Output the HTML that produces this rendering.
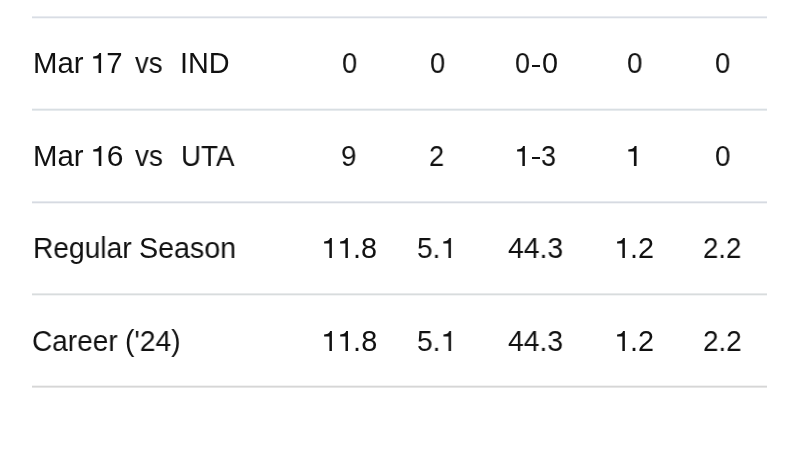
<!DOCTYPE html>
<html><head><meta charset="utf-8">
<style>
html,body{margin:0;padding:0;width:800px;height:450px;overflow:hidden;background:#fff;}
body{position:relative;font-family:"Liberation Sans",sans-serif;color:#111;}
.ln{position:absolute;left:32px;width:735px;height:3px;}
.t{position:absolute;font-size:28.8px;line-height:1;white-space:pre;transform-origin:0 0;will-change:transform;}
.one{display:inline-block;position:relative;width:0.556em;height:0.709em;}
.one svg{position:absolute;left:0;top:0;display:block;}
</style></head><body>
<div class="ln" style="top:16px;background:linear-gradient(#e8ebf0 0,#e8ebf0 1px,#d9dde4 1px,#d9dde4 2px,#f4f6f8 2px)"></div>
<div class="ln" style="top:108px;background:linear-gradient(#f2f4f6 0,#f2f4f6 1px,#d8dee2 1px,#d8dee2 2px,#e6eaed 2px)"></div>
<div class="ln" style="top:201px;background:linear-gradient(#e6e9ee 0,#e6e9ee 1px,#d6dae1 1px,#d6dae1 2px,#f3f4f6 2px)"></div>
<div class="ln" style="top:293px;background:linear-gradient(#e8eaeb 0,#e8eaeb 1px,#d8dcdd 1px,#d8dcdd 2px,#f3f4f5 2px)"></div>
<div class="ln" style="top:385px;background:linear-gradient(#f2f2f2 0,#f2f2f2 1px,#d6d6d6 1px,#d6d6d6 2px,#e6e6e6 2px)"></div>
<div class="t" style="left:32.72px;top:49.40px;transform:scaleX(1.0191)">Mar</div>
<div class="t" style="left:89.70px;top:49.40px;transform:scaleX(1.0193)"><span class="one"><svg viewBox="0 0 556 709" width="100%" height="100%" preserveAspectRatio="none"><path d="M378 709L378 0L312 0C298 70 262 106 108 118L108 190L291 190L291 709Z" fill="#111"/></svg></span>7</div>
<div class="t" style="left:134.60px;top:49.40px;transform:scaleX(0.9536)">vs</div>
<div class="t" style="left:180.01px;top:49.40px;transform:scaleX(0.9956)">IND</div>
<div class="t" style="left:341.71px;top:49.40px;transform:scaleX(0.9500)">0</div>
<div class="t" style="left:429.71px;top:49.40px;transform:scaleX(0.9500)">0</div>
<div class="t" style="left:514.56px;top:49.40px;transform:scaleX(0.9357)">0</div>
<div class="t" style="left:542.21px;top:49.40px;transform:scaleX(0.9857)">0</div>
<div class="t" style="left:626.54px;top:49.40px;transform:scaleX(0.9643)">0</div>
<div class="t" style="left:714.71px;top:49.40px;transform:scaleX(0.9529)">0</div>
<div class="t" style="left:32.72px;top:141.90px;transform:scaleX(1.0191)">Mar</div>
<div class="t" style="left:89.64px;top:141.90px;transform:scaleX(1.0407)"><span class="one"><svg viewBox="0 0 556 709" width="100%" height="100%" preserveAspectRatio="none"><path d="M378 709L378 0L312 0C298 70 262 106 108 118L108 190L291 190L291 709Z" fill="#111"/></svg></span>6</div>
<div class="t" style="left:134.60px;top:141.90px;transform:scaleX(0.9661)">vs</div>
<div class="t" style="left:180.67px;top:141.90px;transform:scaleX(0.9651)">UTA</div>
<div class="t" style="left:341.49px;top:141.90px;transform:scaleX(0.9650)">9</div>
<div class="t" style="left:429.25px;top:141.90px;transform:scaleX(0.9471)">2</div>
<div class="t" style="left:513.87px;top:141.90px;transform:scaleX(0.9750)"><span class="one"><svg viewBox="0 0 556 709" width="100%" height="100%" preserveAspectRatio="none"><path d="M378 709L378 0L312 0C298 70 262 106 108 118L108 190L291 190L291 709Z" fill="#111"/></svg></span></div>
<div class="t" style="left:541.46px;top:141.90px;transform:scaleX(0.9357)">3</div>
<div class="t" style="left:625.41px;top:141.90px;transform:scaleX(1.0625)"><span class="one"><svg viewBox="0 0 556 709" width="100%" height="100%" preserveAspectRatio="none"><path d="M378 709L378 0L312 0C298 70 262 106 108 118L108 190L291 190L291 709Z" fill="#111"/></svg></span></div>
<div class="t" style="left:714.69px;top:141.90px;transform:scaleX(0.9671)">0</div>
<div class="t" style="left:32.84px;top:234.35px;transform:scaleX(0.9786)">Regular</div>
<div class="t" style="left:138.91px;top:234.35px;transform:scaleX(0.9931)">Season</div>
<div class="t" style="left:321.02px;top:234.35px;transform:scaleX(0.9923)"><span class="one"><svg viewBox="0 0 556 709" width="100%" height="100%" preserveAspectRatio="none"><path d="M378 709L378 0L312 0C298 70 262 106 108 118L108 190L291 190L291 709Z" fill="#111"/></svg></span><span class="one"><svg viewBox="0 0 556 709" width="100%" height="100%" preserveAspectRatio="none"><path d="M378 709L378 0L312 0C298 70 262 106 108 118L108 190L291 190L291 709Z" fill="#111"/></svg></span>.8</div>
<div class="t" style="left:417.23px;top:234.35px;transform:scaleX(0.9721)">5.<span class="one"><svg viewBox="0 0 556 709" width="100%" height="100%" preserveAspectRatio="none"><path d="M378 709L378 0L312 0C298 70 262 106 108 118L108 190L291 190L291 709Z" fill="#111"/></svg></span></div>
<div class="t" style="left:508.01px;top:234.35px;transform:scaleX(0.9852)">44.3</div>
<div class="t" style="left:614.11px;top:234.35px;transform:scaleX(0.9972)"><span class="one"><svg viewBox="0 0 556 709" width="100%" height="100%" preserveAspectRatio="none"><path d="M378 709L378 0L312 0C298 70 262 106 108 118L108 190L291 190L291 709Z" fill="#111"/></svg></span>.2</div>
<div class="t" style="left:703.14px;top:234.35px;transform:scaleX(0.9579)">2.2</div>
<div class="t" style="left:32.26px;top:326.80px;transform:scaleX(0.9721)">Career</div>
<div class="t" style="left:125.13px;top:326.80px;transform:scaleX(0.9830)">('24)</div>
<div class="t" style="left:320.59px;top:326.80px;transform:scaleX(1.0038)"><span class="one"><svg viewBox="0 0 556 709" width="100%" height="100%" preserveAspectRatio="none"><path d="M378 709L378 0L312 0C298 70 262 106 108 118L108 190L291 190L291 709Z" fill="#111"/></svg></span><span class="one"><svg viewBox="0 0 556 709" width="100%" height="100%" preserveAspectRatio="none"><path d="M378 709L378 0L312 0C298 70 262 106 108 118L108 190L291 190L291 709Z" fill="#111"/></svg></span>.8</div>
<div class="t" style="left:417.22px;top:326.80px;transform:scaleX(0.9765)">5.<span class="one"><svg viewBox="0 0 556 709" width="100%" height="100%" preserveAspectRatio="none"><path d="M378 709L378 0L312 0C298 70 262 106 108 118L108 190L291 190L291 709Z" fill="#111"/></svg></span></div>
<div class="t" style="left:508.02px;top:326.80px;transform:scaleX(0.9833)">44.3</div>
<div class="t" style="left:614.11px;top:326.80px;transform:scaleX(0.9972)"><span class="one"><svg viewBox="0 0 556 709" width="100%" height="100%" preserveAspectRatio="none"><path d="M378 709L378 0L312 0C298 70 262 106 108 118L108 190L291 190L291 709Z" fill="#111"/></svg></span>.2</div>
<div class="t" style="left:703.03px;top:326.80px;transform:scaleX(0.9658)">2.2</div>
<div style="position:absolute;left:532.2px;top:64.75px;width:7.80px;height:2.1px;background:#111;will-change:transform"></div>
<div style="position:absolute;left:532.0px;top:157.25px;width:7.90px;height:2.1px;background:#111;will-change:transform"></div>
</body></html>
